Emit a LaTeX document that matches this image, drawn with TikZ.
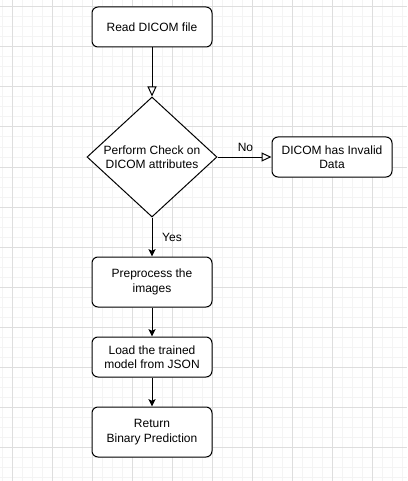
\documentclass[tikz,border=0pt]{standalone}
\usepackage{fontspec}
\setmainfont{Liberation Sans}
\usepackage{tikz}
\usetikzlibrary{arrows.meta,shapes.geometric}

\begin{document}
\begin{tikzpicture}[x=0.75pt,y=-0.75pt,line width=0.75pt,
   font=\fontsize{9}{10.8}\selectfont,
   bx/.style={draw,rounded corners=4.5pt,inner sep=0pt,align=center,minimum width=90pt,minimum height=30pt},
   chk/.style={draw,diamond,shape aspect=1.08,inner sep=0pt,align=center,minimum width=97.5pt,minimum height=90pt},
   gridminor/.style={draw=gray!9,line width=0.75pt},
   gridmajor/.style={draw=gray!26,line width=0.75pt},
   opn/.style={-{Triangle[open,length=7.5pt,width=6.75pt]}},
   cls/.style={-{Stealth[length=5.5pt,width=5.25pt,inset=1.2pt]}}]
  \useasboundingbox (0,0) rectangle (407,481);
  \fill[white] (0,0) rectangle (407,481);
  \foreach \gx in {2,12,...,402} \draw[gridminor] (\gx,0) -- (\gx,481);
  \foreach \gy in {7,17,...,477} \draw[gridminor] (0,\gy) -- (407,\gy);
  \foreach \gx in {12,52,...,372} \draw[gridmajor] (\gx,0) -- (\gx,481);
  \foreach \gy in {7,47,...,447} \draw[gridmajor] (0,\gy) -- (407,\gy);

  \node[bx,fill=white]  (read)  at (152,27)  {Read DICOM file};
  \node[chk,fill=white] (check) at (152,157) {Perform Check on\\DICOM attributes};
  \node[bx,fill=white]  (bad)   at (332,157) {DICOM has Invalid\\Data};
  \node[bx,fill=white,minimum height=37.5pt] (prep) at (152,282) {Preprocess the\\images};
  \node[bx,fill=white]  (load)  at (152,357) {Load the trained\\model from JSON};
  \node[bx,fill=white,minimum height=37.5pt] (ret) at (152,432) {Return\\Binary Prediction};
  \node (no)  at (245.5,147) {No};
  \node (yes) at (172,237.5) {Yes};
  \draw[opn] (read) -- (check);
  \draw[opn] (check) -- (bad);
  \draw[cls] (check) -- (prep);  \draw[cls] (prep) -- (load);  \draw[cls] (load) -- (ret);
\end{tikzpicture}
\end{document}
